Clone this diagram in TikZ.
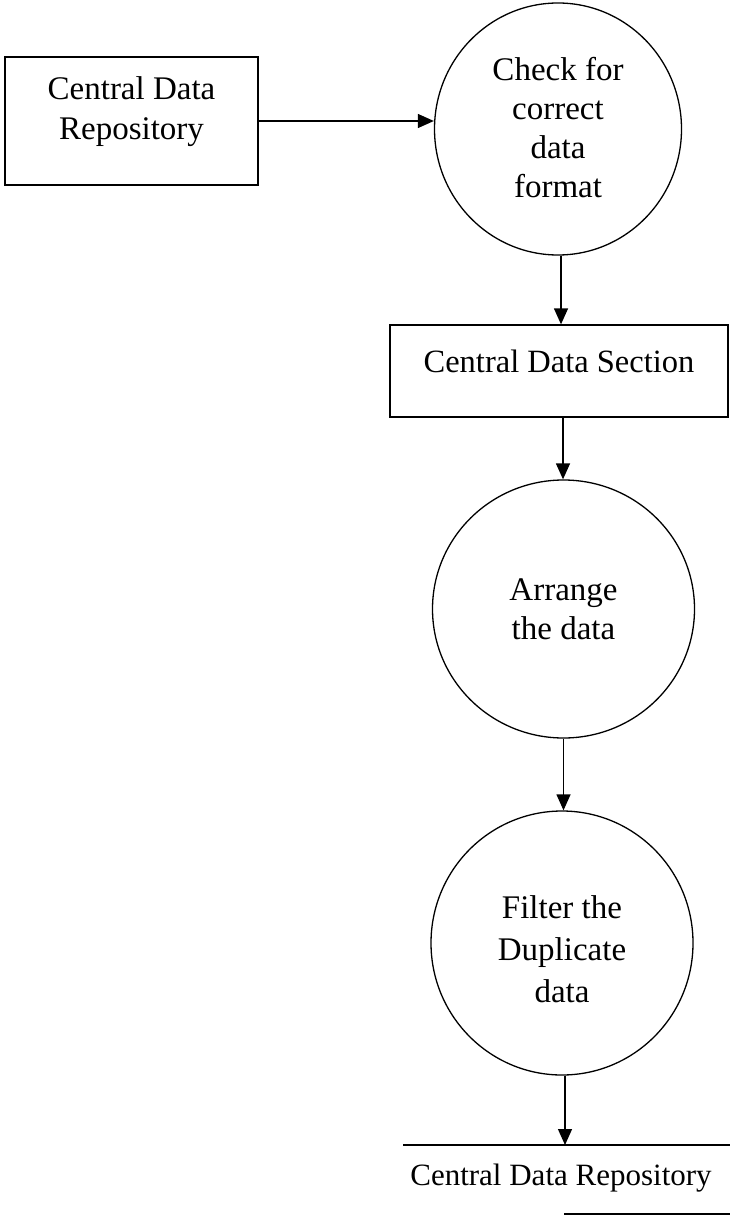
\documentclass[tikz,border=0pt]{standalone}
\usepackage{fontspec}
\setmainfont{Liberation Serif}
\usetikzlibrary{arrows.meta,shapes.geometric}

\tikzset{
  flow/.style={line width=1.3pt},
  arr/.style={flow,-{Triangle[length=16pt,width=14pt]}},
  boxnode/.style={draw,flow,rectangle,inner sep=0pt},
  procnode/.style={draw,flow,ellipse,inner sep=0pt,align=center,
    font=\fontsize{33}{39}\selectfont},
  lbl/.style={inner sep=0pt,align=center,font=\fontsize{33}{40}\selectfont},
}

\begin{document}
\begin{tikzpicture}[x=1pt,y=-1pt]
  \useasboundingbox (0,0) rectangle (730,1217);

  % external entity
  \node[boxnode,minimum width=253pt,minimum height=128pt] (repo) at (131.5,121) {};
  \node[lbl,anchor=base] (repotxt) at (131.5,140) {Central Data\\Repository};

  % processes
  \node[procnode,minimum width=247pt,minimum height=252pt] (check) at (558,129)
    {Check for\\correct\\data\\format\\[-36pt]};

  \node[boxnode,minimum width=338pt,minimum height=92pt] (sect) at (559,371) {};
  \node[lbl,anchor=base,font=\fontsize{32.5}{39}\selectfont] (secttxt) at (559,372)
    {Central Data Section};

  \node[procnode,minimum width=262pt,minimum height=258pt] (arrange) at (563.5,609)
    {Arrange\\the data};

  \node[procnode,minimum width=262pt,minimum height=264pt,
        font=\fontsize{33}{42}\selectfont] (filter) at (562,943)
    {\\[-6pt]Filter the\\Duplicate\\data};

  % data store
  \coordinate (st1) at (403,1145);
  \coordinate (st2) at (730,1145);
  \coordinate (st3) at (564,1214);
  \coordinate (st4) at (730,1214);
  \node[lbl,anchor=base,font=\fontsize{31}{37}\selectfont] (store) at (561,1185)
    {Central Data Repository};
  \draw[flow] (st1) -- (st2);
  \draw[flow] (st3) -- (st4);

  % data flows
  \draw[arr] (repo.east) -- (repo.east -| check.west);
  \draw[arr] ([xshift=3pt]check.south) -- ([xshift=3pt]check.south |- sect.north);
  \draw[arr] ([xshift=4pt]sect.south) -- ([xshift=4pt]sect.south |- arrange.north);
  \draw[arr] (arrange.south) -- (arrange.south |- filter.north);
  \draw[arr] ([xshift=3pt]filter.south) -- ([xshift=3pt]filter.south |- st1);
\end{tikzpicture}
\end{document}
